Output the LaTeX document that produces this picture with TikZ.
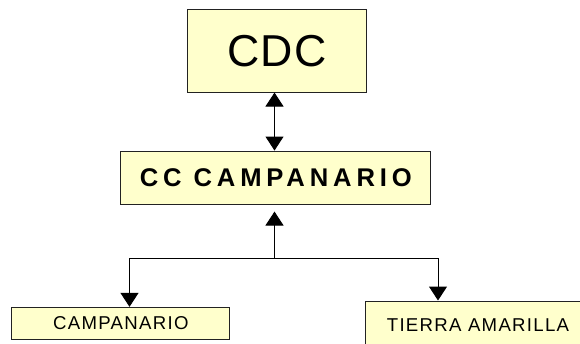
\documentclass[tikz,border=0pt]{standalone}
\usepackage{fontspec}
\setmainfont{Liberation Sans}
\usepackage{xcolor}
\usepackage{tikz}
\usetikzlibrary{shapes,arrows,positioning,calc,arrows.meta}
\definecolor{boxfill}{HTML}{FFFFCC}
\definecolor{boxline}{HTML}{222222}

\begin{document}
\begin{tikzpicture}[x=1pt, y=-1pt,
    unit/.style={draw=boxline, line width=1pt, fill=boxfill, inner sep=0pt, text depth=0pt},
    link/.style={line width=1pt, -{Triangle[width=18pt,length=14pt]}},
    both/.style={line width=1pt, {Triangle[width=18pt,length=14pt]}-{Triangle[width=18pt,length=14pt]}}]
        \useasboundingbox (0,0) rectangle (580,343);

        % Top
        \node[unit, minimum width=179.4pt, minimum height=82.7pt, text height=32pt,
              font=\fontsize{44.7}{50}\selectfont\addfontfeature{LetterSpace=3}] (cdc) at (277,50.7) {CDC};

        % Middle
        \node[unit, minimum width=310.3pt, minimum height=53.3pt, text height=18.3pt,
              font=\fontsize{25.6}{30}\selectfont\bfseries\addfontfeature{LetterSpace=19}] (cc) at (275.8,177.7) {CC CAMPANARIO};

        % Bottom
        \node[unit, minimum width=218.3pt, minimum height=31.7pt, text height=13.3pt,
              font=\fontsize{18.6}{22}\selectfont\addfontfeature{LetterSpace=7}] (campanario) at (120.8,323.2) {CAMPANARIO};
        \node[unit, minimum width=226pt, minimum height=48pt, text height=13.3pt,
              font=\fontsize{18.6}{22}\selectfont\addfontfeature{LetterSpace=7}] (tierra) at (478,325) {TIERRA AMARILLA};

        % Links
        \coordinate (bus) at (274.5,258.3);
        \coordinate (lft) at (129.5,258.3);
        \coordinate (rgt) at (438,258.3);
        \draw[both] (bus |- cdc.south) -- (bus |- cc.north);
        \draw[link, shorten >=6.7pt] (bus) -- (bus |- cc.south);
        \draw[line width=1pt] (lft) -- (rgt);
        \draw[link] (lft) -- (lft |- campanario.north);
        \draw[link] (rgt) -- (rgt |- tierra.north);
    \end{tikzpicture}
\end{document}
